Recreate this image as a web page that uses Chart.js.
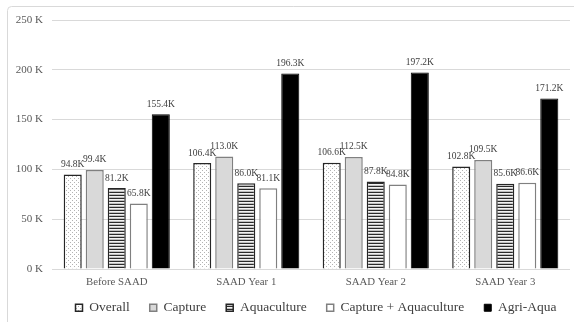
<!DOCTYPE html>
<html>
<head>
<meta charset="utf-8">
<script src="https://cdn.jsdelivr.net/npm/chart.js@4/dist/chart.umd.min.js"></script>
<style>
  html, body { margin: 0; padding: 0; background: #ffffff; }
  #wrap { position: relative; width: 574px; height: 322px; }
</style>
</head>
<body>
<div id="wrap"><canvas id="c"></canvas></div>
<script>
// Categories and series (values in thousands)
const categories = ['Before SAAD', 'SAAD Year 1', 'SAAD Year 2', 'SAAD Year 3'];
const overall = [94.8, 106.4, 106.6, 102.8];
const capture = [99.4, 113.0, 112.5, 109.5];
const aquaculture = [81.2, 86.0, 87.8, 85.6];
const captureAqua = [65.8, 81.1, 84.8, 86.6];
const agriAqua = [155.4, 196.3, 197.2, 171.2];
const yTicks = [0, 50, 100, 150, 200, 250];

const FONT = "'Liberation Serif', 'Times New Roman', serif";

// Fill patterns for the bars
function makePattern(w, h, paint) {
  const cv = document.createElement('canvas');
  cv.width = w; cv.height = h;
  const g = cv.getContext('2d');
  paint(g);
  return g.createPattern(cv, 'repeat');
}
const dotPattern = makePattern(4, 4, g => {
  g.fillStyle = '#ffffff'; g.fillRect(0, 0, 4, 4);
  g.fillStyle = '#b3b3b3';
  g.fillRect(0, 0, 1, 1);
  g.fillRect(2, 2, 1, 1);
});
const stripePattern = makePattern(4, 3, g => {
  g.fillStyle = '#f2f2f2'; g.fillRect(0, 0, 4, 3);
  g.fillStyle = '#2b2b2b'; g.fillRect(0, 0, 4, 1);
  g.fillStyle = '#bfbfbf'; g.fillRect(0, 2, 4, 1);
});

// Light rounded frame around the chart
const framePlugin = {
  id: 'frame',
  beforeDraw(chart) {
    const ctx = chart.ctx;
    ctx.save();
    ctx.strokeStyle = '#d9d9d9';
    ctx.lineWidth = 1;
    ctx.beginPath();
    ctx.roundRect(7.5, 6.5, 580, 330, 4);
    ctx.stroke();
    ctx.restore();
  }
};

// Compact legend band: fixed height, items nudged up and to the right
const LEGEND_HEIGHT = 32;
const LEGEND_LIFT = 9;
const LEGEND_SHIFT = 31;
const legendPlacement = {
  id: 'legendPlacement',
  beforeLayout(chart) {
    const lg = chart.legend;
    if (lg && !lg._fixedFit) {
      const fit = lg.fit.bind(lg);
      lg.fit = function () { fit(); this.height = LEGEND_HEIGHT; };
      lg._fixedFit = true;
    }
  },
  afterLayout(chart) {
    const lg = chart.legend;
    if (lg) {
      lg.left += LEGEND_SHIFT;
      lg.right += LEGEND_SHIFT;
      lg.top -= LEGEND_LIFT;
    }
  }
};

// Value labels above each bar
const valueLabels = {
  id: 'valueLabels',
  afterDatasetsDraw(chart) {
    const ctx = chart.ctx;
    ctx.save();
    ctx.font = '9.5px ' + FONT;
    ctx.fillStyle = '#404040';
    ctx.textAlign = 'center';
    ctx.textBaseline = 'middle';
    chart.data.datasets.forEach((ds, i) => {
      chart.getDatasetMeta(i).data.forEach((bar, j) => {
        ctx.fillText(ds.data[j].toFixed(1) + 'K', bar.x, bar.y - 10);
      });
    });
    ctx.restore();
  }
};

new Chart(document.getElementById('c'), {
  type: 'bar',
  data: {
    labels: categories,
    datasets: [
      { label: 'Overall', data: overall, backgroundColor: dotPattern, borderColor: '#262626', borderWidth: 1.5 },
      { label: 'Capture', data: capture, backgroundColor: '#d9d9d9', borderColor: '#808080', borderWidth: 1.5 },
      { label: 'Aquaculture', data: aquaculture, backgroundColor: stripePattern, borderColor: '#262626', borderWidth: 1.5 },
      { label: 'Capture + Aquaculture', data: captureAqua, backgroundColor: '#ffffff', borderColor: '#808080', borderWidth: 1.5 },
      { label: 'Agri-Aqua', data: agriAqua, backgroundColor: '#000000', borderColor: '#000000', borderWidth: 1 }
    ]
  },
  options: {
    responsive: true,
    maintainAspectRatio: false,
    animation: false,
    categoryPercentage: 0.85,
    barPercentage: 0.82,
    layout: { padding: { top: 20, right: 4, left: 0, bottom: 0 } },
    plugins: {
      legend: {
        position: 'bottom',
        labels: {
          font: { family: FONT, size: 13.5 },
          color: '#404040',
          boxWidth: 7,
          boxHeight: 7,
          padding: 20
        }
      },
      tooltip: { enabled: false }
    },
    scales: {
      x: {
        afterFit(scale) { scale.height = 21; },
        grid: { display: false, drawTicks: false },
        border: { display: false },
        ticks: { font: { family: FONT, size: 10.8 }, color: '#595959', padding: 7 }
      },
      y: {
        min: 0,
        max: 250,
        afterBuildTicks(scale) { scale.ticks = yTicks.map(v => ({ value: v })); },
        afterFit(scale) { scale.width = 52; },
        grid: { color: '#d9d9d9', drawTicks: false },
        border: { display: false },
        ticks: {
          font: { family: FONT, size: 11 },
          color: '#595959',
          padding: 9,
          callback: v => v + ' K'
        }
      }
    }
  },
  plugins: [framePlugin, legendPlacement, valueLabels]
});
</script>
</body>
</html>
